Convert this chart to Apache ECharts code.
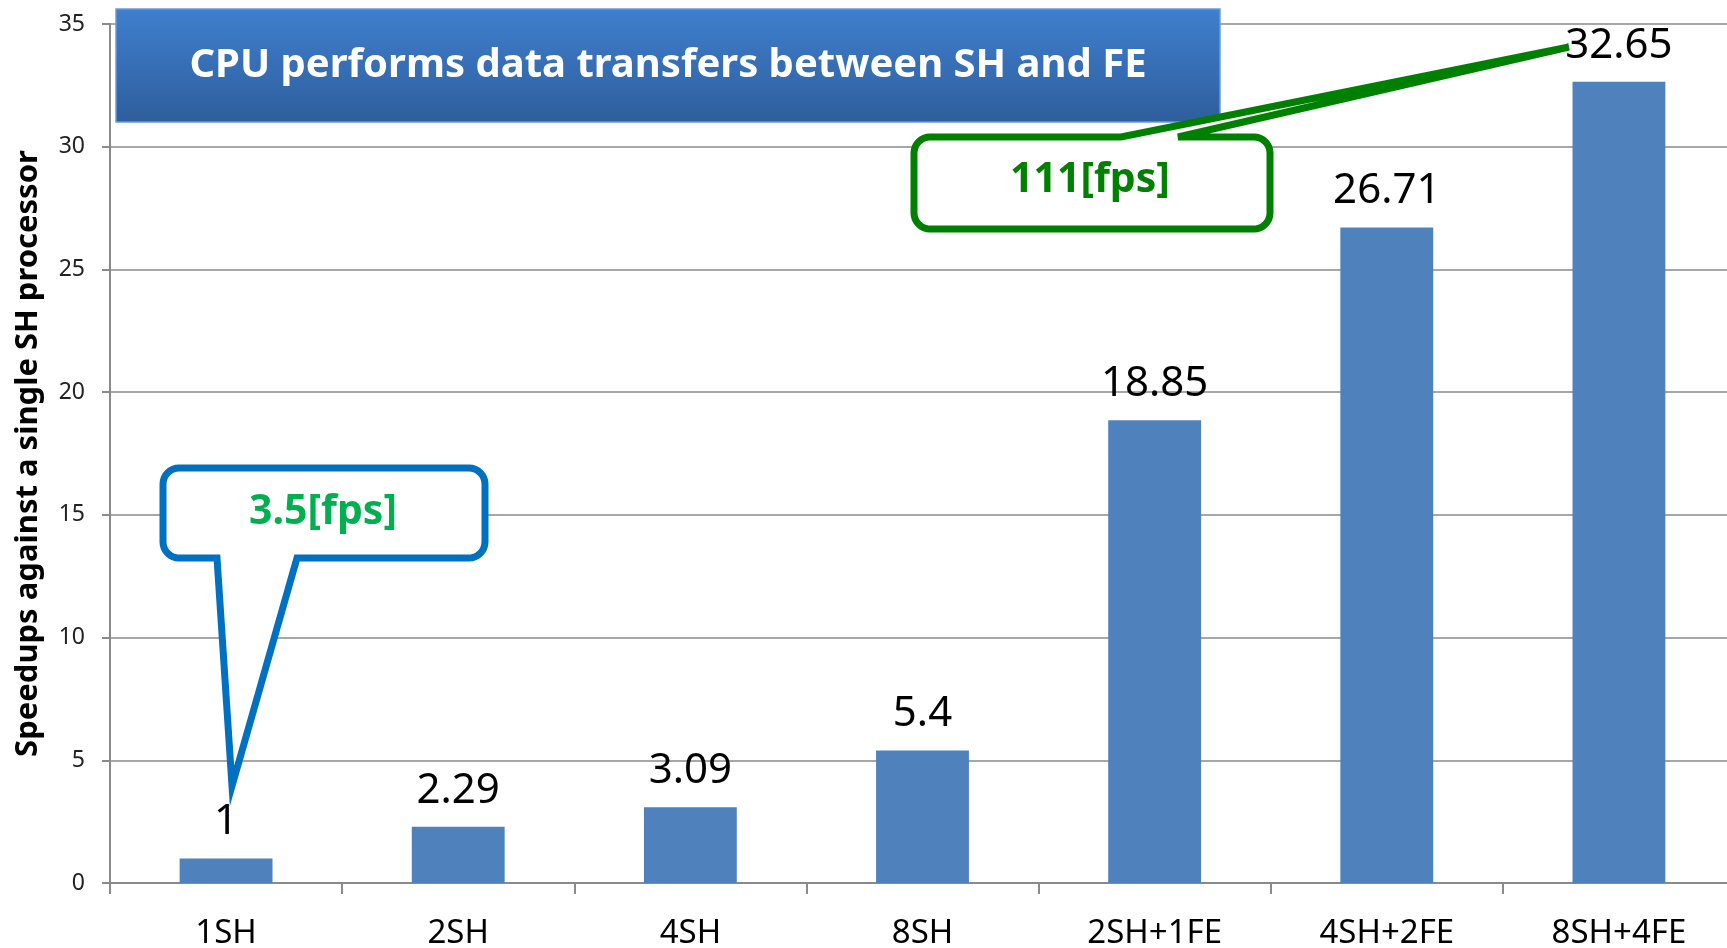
<!DOCTYPE html>
<html>
<head>
<meta charset="utf-8">
<title>Speedups against a single SH processor</title>
<script src="https://cdn.jsdelivr.net/npm/echarts@6/dist/echarts.min.js"></script>
<style>
  html, body { margin: 0; padding: 0; background: #fff; }
  #chart { width: 1727px; height: 948px; }
</style>
</head>
<body>
<div id="chart"></div>
<script>
// Configurations measured, and their speedup over one SH core
const categories = ['1SH', '2SH', '4SH', '8SH', '2SH+1FE', '4SH+2FE', '8SH+4FE'];
const speedups = [1, 2.29, 3.09, 5.4, 18.85, 26.71, 32.65];
const yTicks = [0, 5, 10, 15, 20, 25, 30, 35];

const titleText = 'CPU performs data transfers between SH and FE';
const yAxisTitle = 'Speedups against a single SH processor';
const slowNote = '3.5[fps]';
const fastNote = '111[fps]';

const FONT = "'Noto Sans', 'Open Sans', sans-serif";
const GRID_COLOR = '#8a8a8a';

// Rounded box outline with a pointed tail leaving one of its horizontal edges
function calloutPoints(x0, y0, x1, y1, r, side, ba, bb, tip) {
  const pts = [];
  const arc = (cx, cy, a0, a1) => {
    const n = 8;
    for (let i = 0; i <= n; i++) {
      const a = (a0 + (a1 - a0) * i / n) * Math.PI / 180;
      pts.push([cx + r * Math.cos(a), cy + r * Math.sin(a)]);
    }
  };
  arc(x0 + r, y0 + r, 180, 270);
  if (side === 'top') { pts.push([ba, y0], tip, [bb, y0]); }
  arc(x1 - r, y0 + r, 270, 360);
  arc(x1 - r, y1 - r, 0, 90);
  if (side === 'bottom') { pts.push([bb, y1], tip, [ba, y1]); }
  arc(x0 + r, y1 - r, 90, 180);
  return pts;
}

const chart = echarts.init(document.getElementById('chart'), null, { renderer: 'canvas' });

const option = {
  animation: false,
  backgroundColor: '#ffffff',
  textStyle: { fontFamily: FONT },
  grid: {
    left: 110, top: 24, width: 1625, height: 859,
    containLabel: false, outerBoundsMode: 'none'
  },
  xAxis: {
    type: 'category',
    data: categories,
    axisLine: { show: true, lineStyle: { color: GRID_COLOR, width: 2 } },
    axisTick: { show: true, alignWithLabel: false, length: 11, lineStyle: { color: GRID_COLOR, width: 2 } },
    axisLabel: { color: '#000', fontSize: 33, fontFamily: FONT, margin: 34 },
    splitLine: { show: false }
  },
  yAxis: {
    type: 'value',
    min: yTicks[0],
    max: yTicks[yTicks.length - 1],
    interval: yTicks[1] - yTicks[0],
    name: yAxisTitle,
    nameLocation: 'middle',
    nameGap: 66,
    nameTextStyle: { color: '#000', fontSize: 31, fontWeight: 'bold', fontFamily: FONT },
    axisLine: { show: true, lineStyle: { color: GRID_COLOR, width: 2 } },
    axisTick: { show: true, length: 8, lineStyle: { color: GRID_COLOR, width: 2 } },
    axisLabel: { color: '#222', fontSize: 23, fontFamily: FONT, margin: 25 },
    splitLine: { show: true, lineStyle: { color: GRID_COLOR, width: 1.5 } }
  },
  series: [{
    type: 'bar',
    data: speedups,
    barWidth: '40%',
    itemStyle: { color: '#4F81BD' },
    label: {
      show: true,
      position: 'top',
      distance: 15,
      color: '#000',
      fontSize: 42,
      fontFamily: FONT
    },
    z: 2
  }],
  graphic: [
    // heading banner
    {
      type: 'rect',
      z: 100,
      shape: { x: 116, y: 9, width: 1104, height: 113 },
      style: {
        fill: new echarts.graphic.LinearGradient(0, 0, 0, 1, [
          { offset: 0, color: '#3F7FCE' },
          { offset: 1, color: '#2E5E9D' }
        ]),
        stroke: '#6A9BD8',
        lineWidth: 1.5
      }
    },
    {
      type: 'text',
      z: 101,
      x: 668, y: 66,
      style: {
        text: titleText,
        fill: '#ffffff',
        font: 'bold 40px ' + FONT,
        align: 'center',
        verticalAlign: 'middle'
      }
    },
    // slow-case callout
    {
      type: 'polygon',
      z: 110,
      shape: { points: calloutPoints(163, 468, 485, 558, 16, 'bottom', 217, 297, [232, 786]) },
      style: { fill: '#ffffff', stroke: '#0070C0', lineWidth: 7, lineJoin: 'miter', miterLimit: 12 }
    },
    {
      type: 'text',
      z: 111,
      x: 323, y: 512,
      style: {
        text: slowNote,
        fill: '#00B050',
        font: 'bold 41px ' + FONT,
        align: 'center',
        verticalAlign: 'middle'
      }
    },
    // fast-case callout
    {
      type: 'polygon',
      z: 110,
      shape: { points: calloutPoints(914, 137, 1270, 229, 16, 'top', 1121, 1178, [1569, 47]) },
      style: { fill: '#ffffff', stroke: '#008000', lineWidth: 7, lineJoin: 'miter', miterLimit: 4 }
    },
    {
      type: 'text',
      z: 111,
      x: 1090, y: 180,
      style: {
        text: fastNote,
        fill: '#008000',
        font: 'bold 41px ' + FONT,
        align: 'center',
        verticalAlign: 'middle'
      }
    }
  ]
};

chart.setOption(option);
</script>
</body>
</html>
